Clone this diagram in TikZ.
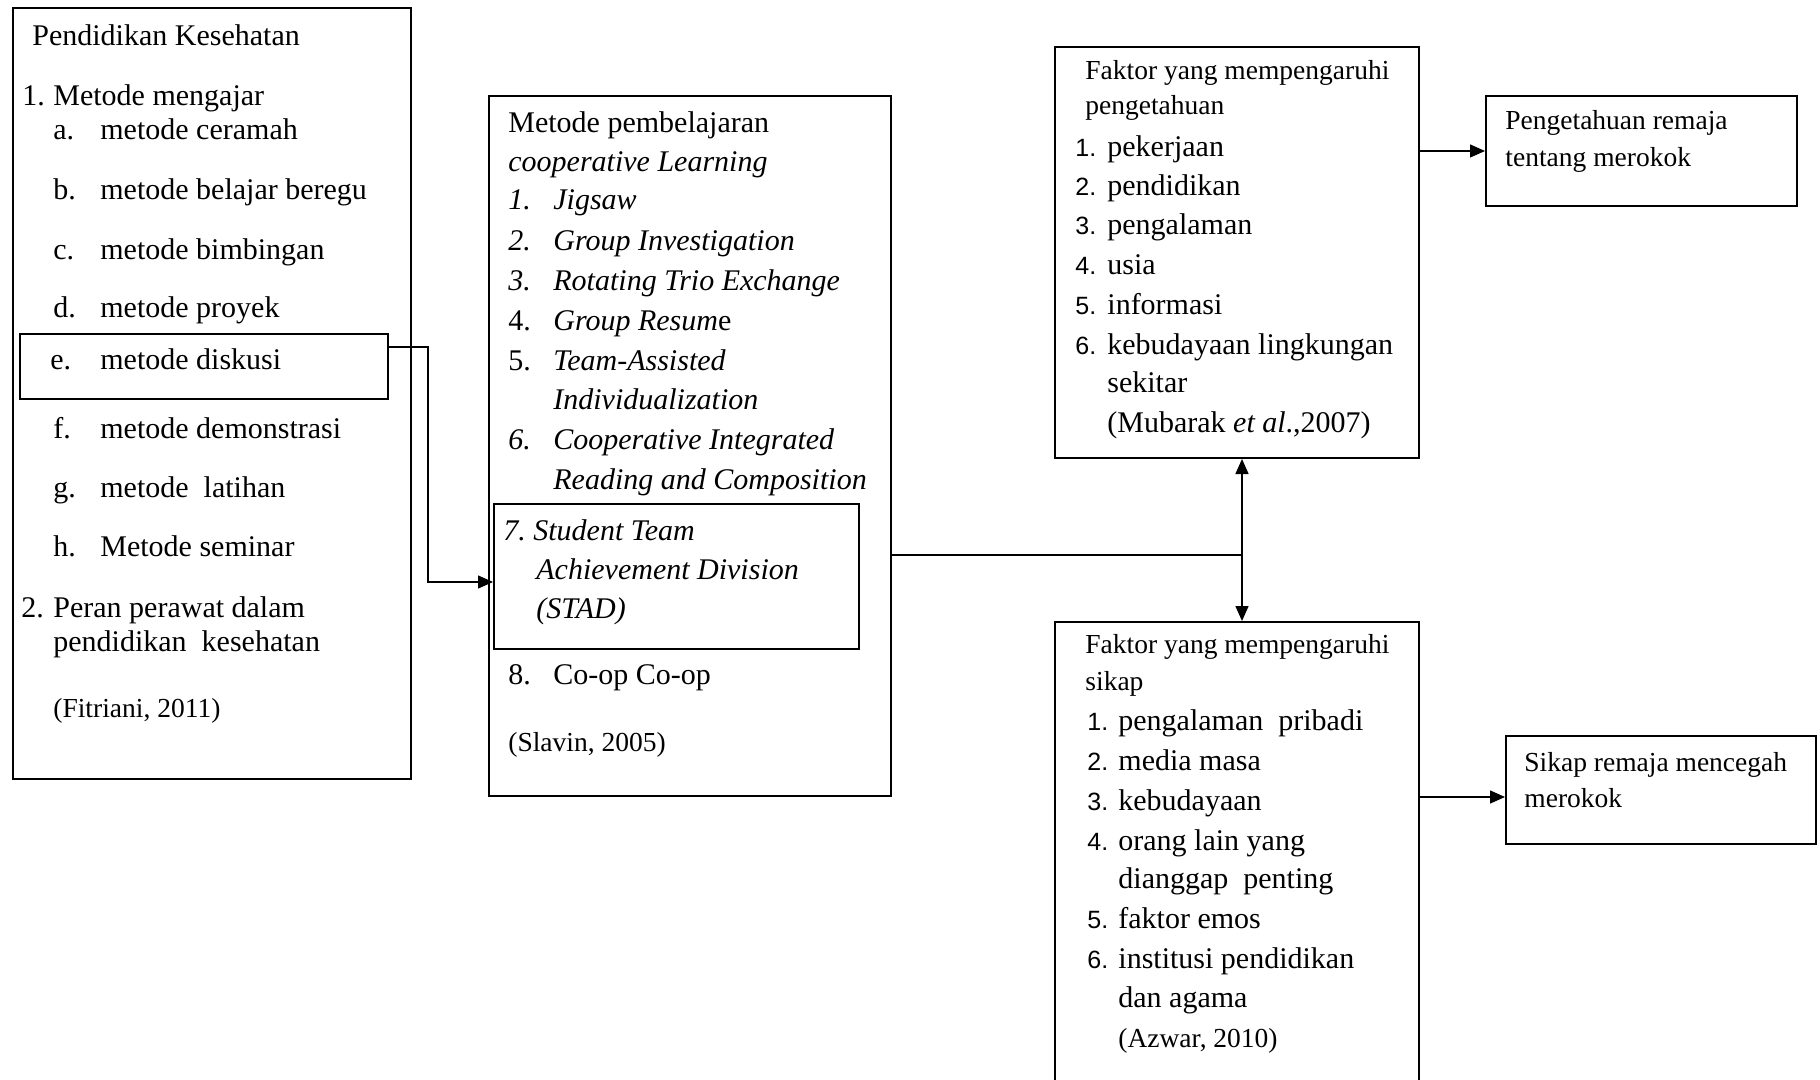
\documentclass[tikz,border=0pt]{standalone}
\usepackage{fontspec}
\setmainfont{Liberation Serif}
\newfontfamily\numsans{Liberation Sans}
\usetikzlibrary{arrows.meta,calc}
\newcommand\szmain{\fontsize{15}{18}\selectfont}
\newcommand\szsmall{\fontsize{13.75}{16}\selectfont}
\newcommand\szdig{\numsans\fontsize{12.5}{15}\selectfont}
\newcommand{\mkline}[5][mtxt]{\node[#1] (#2) at (#3,#4) {#5};}
\begin{document}
\begin{tikzpicture}[x=0.5pt,y=-0.5pt,
  box/.style={draw, line width=1pt, inner sep=0pt, anchor=north west},
  mtxt/.style={anchor=base west, inner sep=0pt, font=\szmain},
  stxt/.style={anchor=base west, inner sep=0pt, font=\szsmall},
  dtxt/.style={anchor=base west, inner sep=0pt, font=\szdig},
  conn/.style={line width=0.7pt},
  arr/.style={line width=0.7pt, -{Triangle[length=7.5pt,width=6.5pt]}}]
\useasboundingbox (0,0) rectangle (1820,1080);
\fill[white] (0,0) rectangle (1820,1080);

% boxes
\node[box, minimum width=199pt, minimum height=385.5pt] (pk) at (12,7) {};
\node[box, minimum width=184pt, minimum height=32.5pt] (ebox) at (19,333) {};
\node[box, minimum width=201pt, minimum height=350pt] (mp) at (488,95) {};
\node[box, minimum width=182.5pt, minimum height=72.5pt] (stad) at (493,503) {};
\node[box, minimum width=182pt, minimum height=205.5pt] (fp) at (1054,46) {};
\node[box, minimum width=182pt, minimum height=240pt] (fs) at (1054,621) {};
\node[box, minimum width=155.5pt, minimum height=55pt] (pr) at (1485,95) {};
\node[box, minimum width=155pt, minimum height=54pt] (sr) at (1505,735) {};

% box 1 text
\mkline{t1h}{32}{46}{Pendidikan Kesehatan}
\mkline{t1n1}{22}{106}{1.}
\mkline{t1m}{53}{106}{Metode mengajar}
\mkline{t1la}{53}{140}{a.}
\mkline{t1a}{100}{140}{metode ceramah}
\mkline{t1lb}{53}{200}{b.}
\mkline{t1b}{100}{200}{metode belajar beregu}
\mkline{t1lc}{53}{260}{c.}
\mkline{t1c}{100}{260}{metode bimbingan}
\mkline{t1ld}{53}{318}{d.}
\mkline{t1d}{100}{318}{metode proyek}
\mkline{t1le}{50}{370}{e.}
\mkline{t1e}{100}{370}{metode diskusi}
\mkline{t1lf}{53}{438}{f.}
\mkline{t1f}{100}{438}{metode demonstrasi}
\mkline{t1lg}{53}{497}{g.}
\mkline{t1g}{100}{497}{metode\ \ latihan}
\mkline{t1lh}{53}{556}{h.}
\mkline{t1hh}{100}{556}{Metode seminar}
\mkline{t1n2}{21}{617}{2.}
\mkline{t1p}{53}{617}{Peran perawat dalam}
\mkline{t1p2}{53}{651}{pendidikan\ \ kesehatan}
\mkline[stxt]{t1r}{53}{717}{(Fitriani, 2011)}

% box 2 text
\mkline{t2h}{508}{133}{Metode pembelajaran}
\mkline{t2h2}{508}{172}{\textit{cooperative Learning}}
\mkline{t2n1}{508}{210}{\textit{1.}}
\mkline{t2i1}{553}{210}{\textit{Jigsaw}}
\mkline{t2n2}{508}{251}{\textit{2.}}
\mkline{t2i2}{553}{251}{\textit{Group Investigation}}
\mkline{t2n3}{508}{291}{\textit{3.}}
\mkline{t2i3}{553}{291}{\textit{Rotating Trio Exchange}}
\mkline{t2n4}{508}{331}{4.}
\mkline{t2i4}{553}{331}{\textit{Group Resum}e}
\mkline{t2n5}{508}{371}{5.}
\mkline{t2i5}{553}{371}{\textit{Team-Assisted}}
\mkline{t2i5b}{553}{410}{\textit{Individualization}}
\mkline{t2n6}{508}{450}{\textit{6.}}
\mkline{t2i6}{553}{450}{\textit{Cooperative Integrated}}
\mkline{t2i6b}{553}{489}{\textit{Reading and Composition}}
\mkline{t2n7}{503}{540}{\textit{7.}}
\mkline{t2i7}{533}{540}{\textit{Student Team}}
\mkline{t2i7b}{536}{579}{\textit{Achievement Division}}
\mkline{t2i7c}{536}{618}{\textit{(STAD)}}
\mkline{t2n8}{508}{684}{8.}
\mkline{t2i8}{553}{684}{Co-op Co-op}
\mkline[stxt]{t2r}{508}{751}{(Slavin, 2005)}

% box 3 text
\mkline[stxt]{t3h}{1085}{80}{Faktor yang mempengaruhi}
\mkline[stxt]{t3h2}{1085}{115}{pengetahuan}
\mkline[dtxt]{t3n1}{1075}{157}{1.}
\mkline{t3i1}{1107}{157}{pekerjaan}
\mkline[dtxt]{t3n2}{1075}{196}{2.}
\mkline{t3i2}{1107}{196}{pendidikan}
\mkline[dtxt]{t3n3}{1075}{235}{3.}
\mkline{t3i3}{1107}{235}{pengalaman}
\mkline[dtxt]{t3n4}{1075}{275}{4.}
\mkline{t3i4}{1107}{275}{usia}
\mkline[dtxt]{t3n5}{1075}{315}{5.}
\mkline{t3i5}{1107}{315}{informasi}
\mkline[dtxt]{t3n6}{1075}{355}{6.}
\mkline{t3i6}{1107}{355}{kebudayaan lingkungan}
\mkline{t3i6b}{1107}{393}{sekitar}
\mkline{t3r}{1107}{432}{(Mubarak \textit{et al}.,2007)}

% box 4 text
\mkline[stxt]{t4h}{1085}{653}{Faktor yang mempengaruhi}
\mkline[stxt]{t4h2}{1085}{690}{sikap}
\mkline[dtxt]{t4n1}{1087}{730}{1.}
\mkline{t4i1}{1118}{730}{pengalaman\ \ pribadi}
\mkline[dtxt]{t4n2}{1087}{770}{2.}
\mkline{t4i2}{1118}{770}{media masa}
\mkline[dtxt]{t4n3}{1087}{810}{3.}
\mkline{t4i3}{1118}{810}{kebudayaan}
\mkline[dtxt]{t4n4}{1087}{850}{4.}
\mkline{t4i4}{1118}{850}{orang lain yang}
\mkline{t4i4b}{1118}{888}{dianggap\ \ penting}
\mkline[dtxt]{t4n5}{1087}{928}{5.}
\mkline{t4i5}{1118}{928}{faktor emos}
\mkline[dtxt]{t4n6}{1087}{968}{6.}
\mkline{t4i6}{1118}{968}{institusi pendidikan}
\mkline{t4i6b}{1118}{1007}{dan agama}
\mkline[stxt]{t4r}{1118}{1047}{(Azwar, 2010)}

% box 5 and 6 text
\mkline[stxt]{t5a}{1505}{130}{Pengetahuan remaja}
\mkline[stxt]{t5b}{1505}{167}{tentang merokok}
\mkline[stxt]{t6a}{1524}{771}{Sikap remaja mencegah}
\mkline[stxt]{t6b}{1524}{807}{merokok}

% connectors
\coordinate (junc) at (1242,555);
\draw[arr] (ebox.east |- 0,347) -- (428,347) |- (stad.west |- 0,582);
\draw[conn] (mp.east |- junc) -- (junc);
\draw[arr] (junc) -- (junc |- fp.south);
\draw[arr] (junc) -- (junc |- fs.north);
\draw[arr] (fp.east |- pr.west) -- (pr.west);
\draw[arr] (fs.east |- 0,797) -- (sr.west |- 0,797);
\end{tikzpicture}
\end{document}
